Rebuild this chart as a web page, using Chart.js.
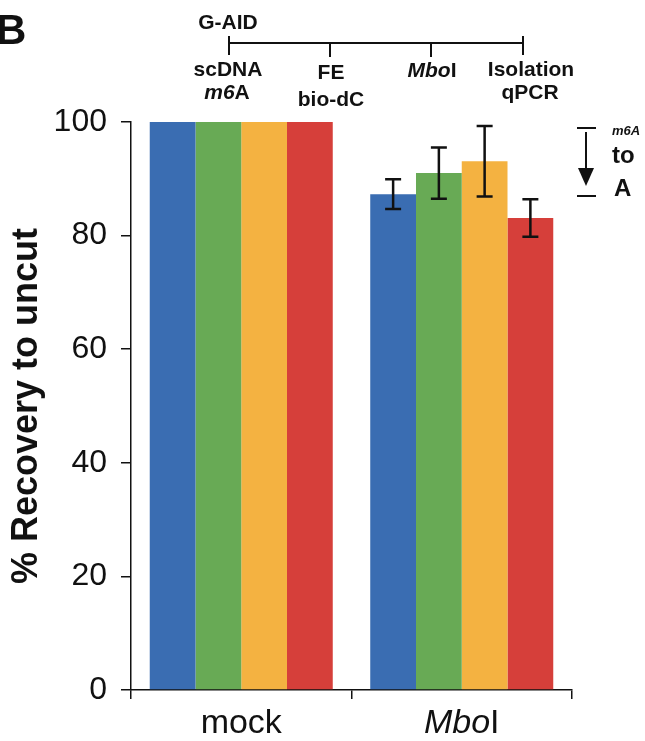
<!DOCTYPE html>
<html>
<head>
<meta charset="utf-8">
<script src="https://cdn.jsdelivr.net/npm/chart.js@4/dist/chart.umd.min.js"></script>
<style>
  html, body { margin: 0; padding: 0; background: #ffffff; }
  #wrap { position: relative; width: 645px; height: 741px; }
  canvas { display: block; }
</style>
</head>
<body>
<div id="wrap"><canvas id="c" width="645" height="741"></canvas></div>
<script>
// ---- data ----
const categories = ['mock', 'MboI'];
const seriesBlue   = [100, 87.3];
const seriesGreen  = [100, 91.0];
const seriesOrange = [100, 93.1];
const seriesRed    = [100, 83.1];
const errBlue   = [0, 2.6];
const errGreen  = [0, 4.5];
const errOrange = [0, 6.2];
const errRed    = [0, 3.3];
const yTicks = [0, 20, 40, 60, 80, 100];
const yTitle = '% Recovery to uncut';

const colors = ['#3a6db2', '#68aa55', '#f4b241', '#d63f3a'];
const seriesList = [seriesBlue, seriesGreen, seriesOrange, seriesRed];
const errList = [errBlue, errGreen, errOrange, errRed];

const FONT = "'Liberation Sans', Arial, Helvetica, sans-serif";

const errorBars = {
  id: 'errorBars',
  afterDatasetsDraw(chart) {
    const ctx = chart.ctx;
    const y = chart.scales.y;
    ctx.save();
    ctx.strokeStyle = '#111';
    ctx.lineWidth = 2.5;
    chart.data.datasets.forEach((ds, i) => {
      const meta = chart.getDatasetMeta(i);
      meta.data.forEach((bar, j) => {
        const e = errList[i][j];
        if (!e) return;
        const v = ds.data[j];
        const yt = y.getPixelForValue(v + e);
        const yb = y.getPixelForValue(v - e);
        const x = bar.x;
        const hw = 8;
        ctx.beginPath();
        ctx.moveTo(x, yt); ctx.lineTo(x, yb);
        ctx.moveTo(x - hw, yt); ctx.lineTo(x + hw, yt);
        ctx.moveTo(x - hw, yb); ctx.lineTo(x + hw, yb);
        ctx.stroke();
      });
    });
    ctx.restore();
  }
};

function drawMixed(ctx, parts, cx, cy, size) {
  let total = 0;
  const widths = parts.map(([t, it]) => {
    ctx.font = (it ? 'italic ' : '') + (parts.bold ? 'bold ' : '') + size + 'px ' + FONT;
    const w = ctx.measureText(t).width; total += w; return w;
  });
  let x = cx - total / 2;
  parts.forEach(([t, it], k) => {
    ctx.font = (it ? 'italic ' : '') + (parts.bold ? 'bold ' : '') + size + 'px ' + FONT;
    ctx.textAlign = 'left';
    ctx.textBaseline = 'middle';
    ctx.fillText(t, x, cy);
    x += widths[k];
  });
}

const annotations = {
  id: 'annotations',
  afterDraw(chart) {
    const ctx = chart.ctx;
    const xs = chart.scales.x;
    ctx.save();
    ctx.fillStyle = '#111';
    // x category labels (MboI: "Mbo" italic, "I" roman)
    const mixedLabels = { 'mock': [['mock', false]], 'MboI': [['Mbo', true], ['I', false]] };
    categories.forEach((c, i) => {
      const px = xs.getPixelForValue(i);
      drawMixed(ctx, mixedLabels[c] || [[c, false]], px, 724, 34);
    });

    // panel letter
    ctx.font = 'bold 42px ' + FONT;
    ctx.textAlign = 'left'; ctx.textBaseline = 'alphabetic';
    ctx.fillText('B', -4, 44);

    // timeline
    ctx.strokeStyle = '#111';
    ctx.lineWidth = 2;
    ctx.beginPath();
    ctx.moveTo(229, 43); ctx.lineTo(523, 43);
    ctx.moveTo(229, 36); ctx.lineTo(229, 55);
    ctx.moveTo(523, 36); ctx.lineTo(523, 55);
    ctx.moveTo(330, 43); ctx.lineTo(330, 57);
    ctx.moveTo(431, 43); ctx.lineTo(431, 57);
    ctx.stroke();

    const b = (arr) => { arr.bold = true; return arr; };
    drawMixed(ctx, b([['G-AID', false]]), 228, 23, 21);
    drawMixed(ctx, b([['scDNA', false]]), 228, 70, 21);
    drawMixed(ctx, b([['m6', true], ['A', false]]), 227, 93, 21);
    drawMixed(ctx, b([['FE', false]]), 331, 73, 21);
    drawMixed(ctx, b([['bio-dC', false]]), 331, 100, 21);
    drawMixed(ctx, b([['Mbo', true], ['I', false]]), 432, 71, 21);
    drawMixed(ctx, b([['Isolation', false]]), 531, 70, 21);
    drawMixed(ctx, b([['qPCR', false]]), 530, 93, 21);

    // right-side partial annotation
    ctx.lineWidth = 2;
    ctx.beginPath();
    ctx.moveTo(577, 128); ctx.lineTo(596, 128);
    ctx.moveTo(577, 196); ctx.lineTo(596, 196);
    ctx.moveTo(586, 132); ctx.lineTo(586, 172);
    ctx.stroke();
    ctx.beginPath();
    ctx.moveTo(578, 168); ctx.lineTo(594, 168); ctx.lineTo(586, 186); ctx.closePath();
    ctx.fill();
    ctx.font = 'italic bold 13px ' + FONT;
    ctx.textAlign = 'left'; ctx.textBaseline = 'middle';
    ctx.fillText('m6A', 612, 131);
    ctx.font = 'bold 24px ' + FONT;
    ctx.fillText('to', 612, 156);
    ctx.fillText('A', 614, 189);
    ctx.restore();
  }
};

const chart = new Chart(document.getElementById('c'), {
  type: 'bar',
  data: {
    labels: categories,
    datasets: seriesList.map((s, i) => ({
      label: 'series ' + (i + 1),
      data: s,
      backgroundColor: colors[i],
      borderWidth: 0,
      categoryPercentage: 0.83,
      barPercentage: 1.0
    }))
  },
  options: {
    responsive: false,
    animation: false,
    devicePixelRatio: 1,
    layout: { padding: { top: 122, right: 73, bottom: 0, left: 0 } },
    plugins: { legend: { display: false }, tooltip: { enabled: false }, title: { display: false } },
    scales: {
      x: {
        offset: true,
        grid: { display: true, drawOnChartArea: false, drawTicks: true, tickLength: 9, color: '#111', lineWidth: 1.5, offset: true },
        border: { display: true, color: '#111', width: 1.5 },
        ticks: { display: false },
        afterFit(scale) { scale.height = 51; }
      },
      y: {
        min: 0, max: 100,
        afterBuildTicks(scale) { scale.ticks = yTicks.map(v => ({ value: v })); },
        grid: { display: true, drawOnChartArea: false, drawTicks: true, tickLength: 10, color: '#111', lineWidth: 1.5 },
        border: { display: true, color: '#111', width: 1.5 },
        ticks: { color: '#111', padding: 14, font: { family: FONT, size: 32 } },
        title: { display: true, text: yTitle, color: '#111', font: { family: FONT, size: 36, weight: 'bold' }, padding: { top: 5, bottom: 0 } },
        afterFit(scale) { scale.width = 131; }
      }
    }
  },
  plugins: [errorBars, annotations]
});
</script>
</body>
</html>
